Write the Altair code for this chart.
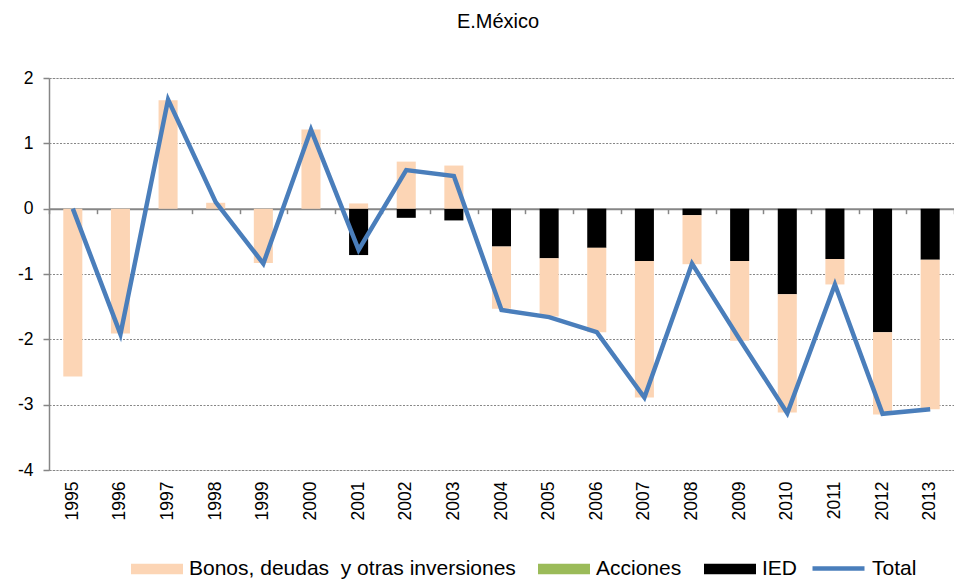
import altair as alt
import pandas as pd

years = [str(y) for y in range(1995, 2014)]
bonos = [-2.57, -1.91, 1.66, 0.09, -0.83, 1.21, 0.08, 0.72, 0.66, -0.95,
         -0.89, -1.29, -2.09, -0.75, -1.22, -1.81, -0.39, -1.26, -2.29]
acciones = [0.0] * 19
ied = [0.0, 0.0, 0.0, 0.0, 0.0, 0.0, -0.71, -0.14, -0.18, -0.58,
       -0.76, -0.60, -0.80, -0.10, -0.80, -1.31, -0.77, -1.89, -0.78]
total = [0.0, -1.92, 1.67, 0.10, -0.84, 1.21, -0.63, 0.59, 0.50, -1.55,
         -1.66, -1.89, -2.89, -0.84, -2.00, -3.13, -1.16, -3.14, -3.07]

title_text = "E.México"
s_bonos = "Bonos, deudas\u00a0 y otras inversiones"
s_acc = "Acciones"
s_ied = "IED"
series_names = [s_bonos, s_acc, s_ied]
series_colors = ["#FCD5B5", "#9BBB59", "#000000"]

rows = []
for i, y in enumerate(years):
    rows.append({"year": y, "serie": s_ied, "value": ied[i], "ord": 0})
    rows.append({"year": y, "serie": s_acc, "value": acciones[i], "ord": 1})
    rows.append({"year": y, "serie": s_bonos, "value": bonos[i], "ord": 2})
bars_df = pd.DataFrame(rows)
line_df = pd.DataFrame({"year": years, "total": total, "name": ["Total"] * 19})

FONT = "Liberation Sans"
GRAY = "#868686"

xscale = alt.Scale(paddingInner=0, paddingOuter=0)
yscale = alt.Scale(domain=[-4, 2], nice=False, zero=False)

bars = alt.Chart(bars_df).mark_bar(width={"band": 0.4}).encode(
    x=alt.X("year:N", scale=xscale, sort=years,
            axis=alt.Axis(title=None, orient="bottom", labelAngle=-90,
                          labelFontSize=17.5, labelColor="#000000",
                          labelPadding=11, ticks=False, domain=False,
                          grid=False, labelFont=FONT)),
    y=alt.Y("value:Q", scale=yscale, stack="zero",
            axis=alt.Axis(title=None, values=[-4, -3, -2, -1, 0, 1, 2],
                          grid=True, gridColor=GRAY, gridDash=[2, 1.5],
                          gridWidth=1, domainColor=GRAY, domainWidth=1.5,
                          tickColor=GRAY, tickSize=6, tickWidth=1.5,
                          labelFontSize=17.5, labelColor="#000000",
                          labelPadding=10, labelFont=FONT,
                          labelExpr="'' + datum.value")),
    fill=alt.Fill("serie:N",
                  scale=alt.Scale(domain=series_names, range=series_colors),
                  legend=alt.Legend(title=None, orient="none", direction="horizontal",
                                    legendX=82, legendY=465,
                                    symbolType="M-1,-0.2H1V0.2H-1Z",
                                    symbolSize=2704, symbolStrokeWidth=0,
                                    labelFontSize=21, labelOffset=6,
                                    labelLimit=800,
                                    columnPadding=22, labelFont=FONT,
                                    labelColor="#000000", padding=0)),
    order=alt.Order("ord:Q", sort="ascending"),
)

line = alt.Chart(line_df).mark_line(strokeWidth=4.5).encode(
    x=alt.X("year:N", scale=xscale, sort=years,
            axis=alt.Axis(title=None, orient="bottom", labels=False,
                          ticks=True, tickSize=5, tickColor=GRAY,
                          tickWidth=1.5, tickBand="extent",
                          domain=True, domainColor=GRAY, domainWidth=2,
                          grid=False, offset=-261.33)),
    y=alt.Y("total:Q", scale=yscale),
    stroke=alt.Stroke("name:N",
                      scale=alt.Scale(domain=["Total"], range=["#4A7EBB"]),
                      legend=alt.Legend(title=None, orient="none",
                                        legendX=761, legendY=462,
                                        symbolType="stroke", symbolSize=2704,
                                        symbolStrokeWidth=4.5,
                                        labelFontSize=21, labelOffset=5,
                                        labelLimit=800,
                                        labelFont=FONT, labelColor="#000000",
                                        padding=0)),
)

title = alt.Chart(alt.Data(values=[{"t": title_text}])).mark_text(
    fontSize=20, font=FONT, color="#000000", align="center",
    baseline="alphabetic"
).encode(text="t:N", x=alt.value(449), y=alt.value(-50))

chart = alt.layer(bars, line, title).resolve_axis(x="independent").properties(
    width=905,
    height=392,
    autosize=alt.AutoSizeParams(type="none"),
    padding={"left": 41, "top": 70, "right": 0, "bottom": 112},
).configure_view(stroke=None).configure(font=FONT)

chart.save("out.html", embed_options={"renderer": "svg", "actions": False})
